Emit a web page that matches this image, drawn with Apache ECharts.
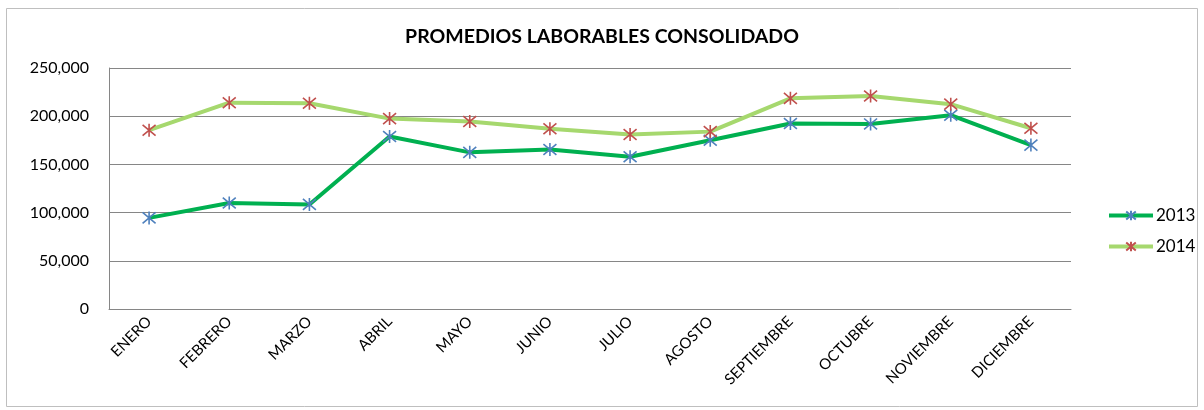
<!DOCTYPE html>
<html>
<head>
<meta charset="utf-8">
<script src="https://cdn.jsdelivr.net/npm/echarts@6/dist/echarts.min.js"></script>
<style>
  html, body { margin: 0; padding: 0; background: #fff; }
  #chart { width: 1204px; height: 410px; }
</style>
</head>
<body>
<div id="chart"></div>
<script>
// datos
const meses = ['ENERO', 'FEBRERO', 'MARZO', 'ABRIL', 'MAYO', 'JUNIO', 'JULIO', 'AGOSTO', 'SEPTIEMBRE', 'OCTUBRE', 'NOVIEMBRE', 'DICIEMBRE'];
const datos2013 = [94500, 110000, 108500, 179000, 162500, 165500, 158000, 175000, 192500, 192000, 201000, 170000];
const datos2014 = [185500, 214000, 213500, 197500, 194500, 187000, 181000, 184000, 218500, 221000, 212500, 187500];
const titulo = 'PROMEDIOS LABORABLES CONSOLIDADO';

const fuente = 'Lato, "Open Sans", sans-serif';
// asterisco: aspa + trazo vertical
const asterisco = 'path://M0,0L10,10M10,0L0,10M5,-1L5,11';

let chart = echarts.init(document.getElementById('chart'));

function serie (nombre, datos, colorLinea, colorMarca) {
  return {
    name: nombre,
    type: 'line',
    data: datos,
    symbol: asterisco,
    symbolSize: 13,
    showAllSymbol: true,
    lineStyle: { color: colorLinea, width: 4 },
    itemStyle: { color: colorMarca, borderColor: colorMarca, borderWidth: 1.6 },
    emphasis: { disabled: true },
    animation: false,
  };
}

const option = {
  animation: false,
  textStyle: { fontFamily: fuente },
  // marco exterior
  graphic: [{
    type: 'rect',
    shape: { x: 6.5, y: 8.5, width: 1191, height: 398 },
    style: { fill: 'none', stroke: '#bfbfbf', lineWidth: 1 },
    silent: true,
  }],
  title: {
    text: titulo,
    left: 'center',
    top: 22,
    textStyle: { fontFamily: fuente, fontWeight: 'bold', fontSize: 19.5, color: '#000' },
  },
  legend: {
    orient: 'vertical',
    left: 1102,
    top: 202,
    itemWidth: 44,
    itemHeight: 12,
    itemGap: 14,
    lineStyle: { width: 4 },
    textStyle: { fontFamily: fuente, fontSize: 17, color: '#000', padding: [0, 0, 0, -2] },
    data: ['2013', '2014'],
  },
  grid: {
    left: 109,
    right: 133,
    top: 68,
    bottom: 101,
    containLabel: false,
  },
  xAxis: {
    type: 'category',
    data: meses,
    boundaryGap: true,
    axisTick: { show: false },
    axisLine: { lineStyle: { color: '#868686', width: 1 } },
    axisLabel: {
      interval: 0,
      rotate: 45,
      margin: 10,
      color: '#000',
      fontSize: 15,
      fontFamily: fuente,
    },
    splitLine: { show: false },
  },
  yAxis: {
    type: 'value',
    min: 0,
    max: 250000,
    interval: 50000,
    axisLine: { show: true, lineStyle: { color: '#868686', width: 1 } },
    axisTick: { show: false },
    splitLine: { lineStyle: { color: '#868686', width: 1 } },
    axisLabel: {
      margin: 20,
      color: '#000',
      fontSize: 16,
      fontFamily: fuente,
      formatter: v => v.toLocaleString('en-US'),
    },
  },
  series: [
    serie('2013', datos2013, '#00b050', '#4f81bd'),
    serie('2014', datos2014, '#a6d86e', '#c0504d'),
  ],
};

chart.setOption(option);
</script>
</body>
</html>
